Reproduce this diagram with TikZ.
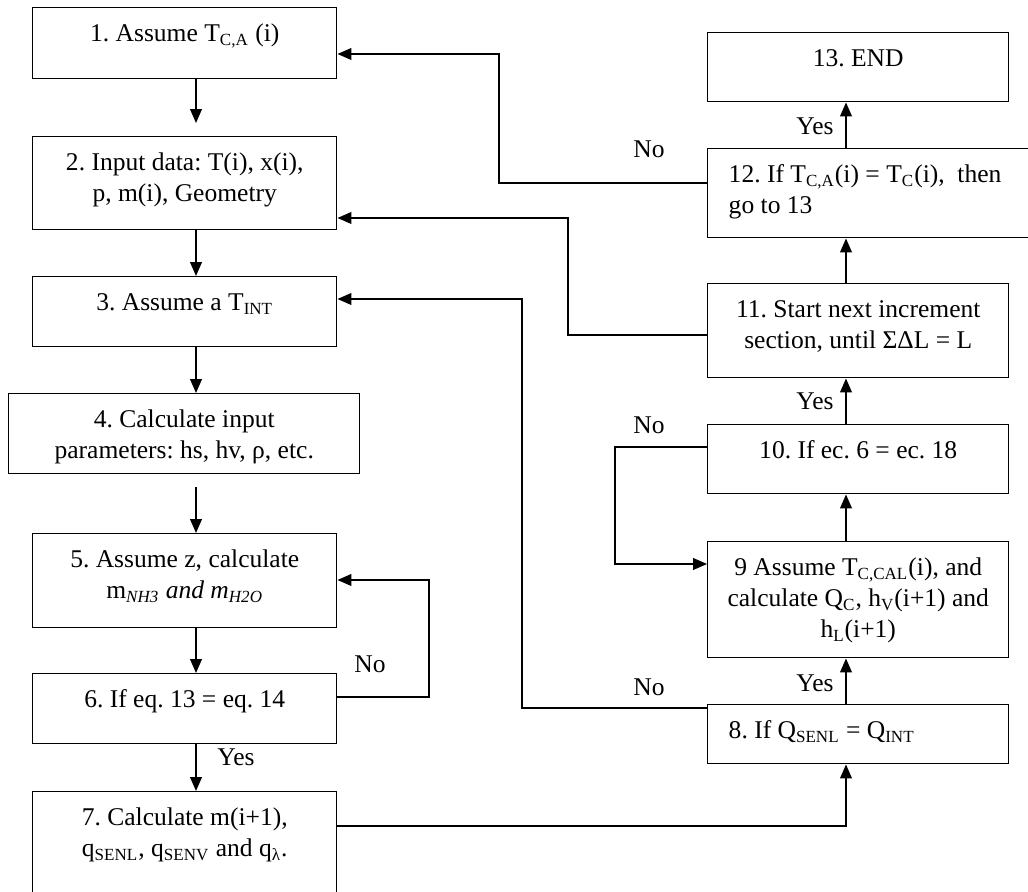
\documentclass[tikz,border=0pt]{standalone}
\usepackage{fontspec}
\setmainfont{Liberation Serif}
\usetikzlibrary{arrows.meta}
\frenchspacing
\newlength{\pxl}
\setlength{\pxl}{0.47pt}
\newcommand{\ctext}[3]{\parbox[c][#2\pxl][t]{#1\pxl}{\centering\vspace*{5.5pt}\strut #3}}
\newcommand{\ltext}[3]{\parbox[c][#2\pxl][t]{#1\pxl}{\raggedright\leftskip=21\pxl\vspace*{5.5pt}\strut #3}}

\begin{document}
\begin{tikzpicture}[x=0.47pt, y=-0.47pt,
    stepbox/.style={draw, line width=0.7pt, inner sep=0pt, anchor=north west,
      font=\fontsize{12}{14.6}\selectfont},
    flow/.style={line width=0.7pt, -{Triangle[length=6.5pt, width=5.5pt]}},
    lbl/.style={inner sep=0pt, font=\fontsize{12}{14.6}\selectfont}]
  \useasboundingbox (0,0) rectangle (1028,892);
  \clip (0,0) rectangle (1028,892);

  % left column
  \node[stepbox] (b1) at (32,7) {\ctext{304}{71}{1. Assume T\textsubscript{C,A} (i)}};
  \node[stepbox] (b2) at (32,136) {\ctext{304}{93}{2. Input data: T(i), x(i),\\ p, m(i), Geometry}};
  \node[stepbox] (b3) at (32,276) {\ctext{304}{70}{3. Assume a T\textsubscript{INT}}};
  \node[stepbox] (b4) at (8,393) {\ctext{351}{80}{4. Calculate input\\ parameters: hs, hv, ρ, etc.}};
  \node[stepbox] (b5) at (32,533) {\ctext{304}{94}{5. Assume z, calculate\\ m\textsubscript{\itshape NH3} \textit{and m\textsubscript{H2O}}}};
  \node[stepbox] (b6) at (32,673) {\ctext{304}{70}{6. If eq. 13 = eq. 14}};
  \node[stepbox] (b7) at (32,791) {\ctext{304}{120}{7. Calculate m(i+1),\\ q\textsubscript{SENL}, q\textsubscript{SENV} and q\textsubscript{λ}.}};

  % right column
  \node[stepbox] (b13) at (707,32) {\ctext{301}{69}{13. END}};
  \node[stepbox] (b12) at (707,148) {\ltext{340}{89}{12. If T\textsubscript{C,A}(i) = T\textsubscript{C}(i),\ \ then\\ go to 13}};
  \node[stepbox] (b11) at (707,283) {\ctext{301}{94}{11. Start next increment\\ section, until ΣΔL = L}};
  \node[stepbox] (b10) at (707,424) {\ctext{301}{69}{10. If ec. 6 = ec. 18}};
  \node[stepbox] (b9) at (707,541) {\ctext{301}{116}{9 Assume T\textsubscript{C,CAL}(i), and\\ calculate Q\textsubscript{C}, h\textsubscript{V}(i+1) and\\ h\textsubscript{L}(i+1)}};
  \node[stepbox] (b8) at (707,704) {\ltext{301}{59}{8. If Q\textsubscript{SENL} = Q\textsubscript{INT}}};

  % straight arrows
  \coordinate (lx) at (196,0);
  \coordinate (rx) at (846,0);
  \draw[flow, shorten >=13\pxl] (b1.south -| lx) -- (b2.north -| lx);
  \draw[flow] (b2.south -| lx) -- (b3.north -| lx);
  \draw[flow] (b3.south -| lx) -- (b4.north -| lx);
  \draw[flow, shorten <=13\pxl] (b4.south -| lx) -- (b5.north -| lx);
  \draw[flow] (b5.south -| lx) -- (b6.north -| lx);
  \draw[flow] (b6.south -| lx) -- (b7.north -| lx);
  \draw[flow] ([yshift=-35\pxl]b7.north east) -| (b8.south -| rx);
  \draw[flow] (b8.north -| rx) -- (b9.south -| rx);
  \draw[flow] (b9.north -| rx) -- (b10.south -| rx);
  \draw[flow] (b10.north -| rx) -- (b11.south -| rx);
  \draw[flow] (b11.north -| rx) -- (b12.south -| rx);
  \draw[flow] (b12.north -| rx) -- (b13.south -| rx);

  % loops back
  \coordinate (k65) at (429,620);
  \coordinate (k109) at (615,500);
  \coordinate (k83) at (522,500);
  \coordinate (k112) at (568,280);
  \coordinate (k121) at (499,120);
  \draw[flow] ([yshift=-24\pxl]b6.north east) -| (k65) |- ([yshift=-47\pxl]b5.north east);
  \draw[flow] ([yshift=-23\pxl]b10.north west) -| (k109) |- ([yshift=-23\pxl]b9.north west);
  \draw[flow] ([yshift=-4\pxl]b8.north west) -| (k83) |- ([yshift=-23\pxl]b3.north east);
  \draw[flow] ([yshift=-52\pxl]b11.north west) -| (k112) |- ([yshift=-82\pxl]b2.north east);
  \draw[flow] ([yshift=-35\pxl]b12.north west) -| (k121) |- ([yshift=-47\pxl]b1.north east);

  % yes / no
  \node[lbl] (no12) at (649,149) {No};
  \node[lbl, anchor=east] (yes12) at (834,126) {Yes};
  \node[lbl] (no10) at (649,425) {No};
  \node[lbl, anchor=east] (yes10) at (834,401) {Yes};
  \node[lbl] (no8) at (649,687) {No};
  \node[lbl, anchor=east] (yes8) at (834,683) {Yes};
  \node[lbl] (no6) at (370,664) {No};
  \node[lbl, anchor=west] (yes6) at (217,757) {Yes};
\end{tikzpicture}
\end{document}
